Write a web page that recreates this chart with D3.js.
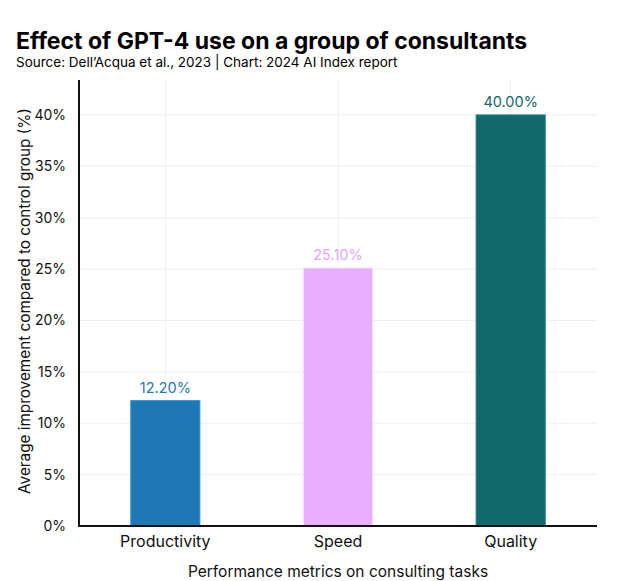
<!DOCTYPE html>
<html><head><meta charset="utf-8">
<script src="https://cdn.jsdelivr.net/npm/d3@7"></script>
<style>body{margin:0;background:#fff;}svg{display:block;font-family:Inter, "Noto Sans", sans-serif;}</style>
</head><body>
<script>
const categories = ["Productivity", "Speed", "Quality"];
const values = [12.2, 25.1, 40.0];
const colors = ["#1f77b4", "#e8aeff", "#11696b"];
const labelColors = ["#1f77b4", "#e3a6f7", "#11696b"];
const yTicks = [0, 5, 10, 15, 20, 25, 30, 35, 40];

const W = 627, H = 581;
const m = {left: 79, right: 30, top: 80, bottom: 55};
const svg = d3.select("body").append("svg").attr("width", W).attr("height", H);

const x = d3.scaleBand().domain(categories).range([m.left, W - m.right]).paddingInner(0.6).paddingOuter(0.3);
const y = d3.scaleLinear().domain([0, 43.4]).range([H - m.bottom, m.top]);

// grid
svg.append("g").selectAll("line.h").data(yTicks).join("line")
  .attr("x1", m.left).attr("x2", W - m.right)
  .attr("y1", d => y(d)).attr("y2", d => y(d))
  .attr("stroke", "#efefef").attr("stroke-width", 1);
svg.append("g").selectAll("line.v").data(categories).join("line")
  .attr("x1", d => x(d) + x.bandwidth()/2).attr("x2", d => x(d) + x.bandwidth()/2)
  .attr("y1", m.top).attr("y2", H - m.bottom)
  .attr("stroke", "#efefef").attr("stroke-width", 1);

// bars
svg.append("g").selectAll("rect").data(values).join("rect")
  .attr("x", (d,i) => x(categories[i]))
  .attr("width", x.bandwidth())
  .attr("y", d => y(d))
  .attr("height", d => y(0) - y(d))
  .attr("fill", (d,i) => colors[i])
  .attr("stroke", (d,i) => d3.color(colors[i]).brighter(0.6))
  .attr("stroke-width", 1);

// value labels
svg.append("g").selectAll("text").data(values).join("text")
  .attr("x", (d,i) => x(categories[i]) + x.bandwidth()/2)
  .attr("y", d => y(d) - 8)
  .attr("text-anchor", "middle")
  .attr("font-size", 14.5)
  .attr("fill", (d,i) => labelColors[i])
  .text(d => d.toFixed(2) + "%");

// axes
const yAxis = svg.append("g").attr("transform", `translate(${m.left},0)`)
  .call(d3.axisLeft(y).tickValues(yTicks).tickFormat(d => d + "%").tickSize(0).tickPadding(13));
yAxis.select(".domain").remove();
yAxis.selectAll("text").attr("font-size", 14).attr("fill", "#111").attr("font-family", "Inter, sans-serif");

const xAxis = svg.append("g").attr("transform", `translate(0,${H - m.bottom})`)
  .call(d3.axisBottom(x).tickSize(0).tickPadding(10));
xAxis.select(".domain").remove();
xAxis.selectAll("text").attr("font-size", 16).attr("fill", "#111").attr("font-family", "Inter, sans-serif");

svg.append("line").attr("x1", m.left).attr("x2", m.left).attr("y1", m.top).attr("y2", H - m.bottom + 1)
  .attr("stroke", "#111").attr("stroke-width", 2);
svg.append("line").attr("x1", m.left - 1).attr("x2", W - m.right).attr("y1", H - m.bottom).attr("y2", H - m.bottom)
  .attr("stroke", "#111").attr("stroke-width", 2);

// axis titles
svg.append("text").attr("x", (m.left + W - m.right)/2).attr("y", 577)
  .attr("text-anchor", "middle").attr("font-size", 15.5).attr("fill", "#111")
  .text("Performance metrics on consulting tasks");
svg.append("text").attr("transform", `translate(30,${(m.top + H - m.bottom)/2 - 2}) rotate(-90)`)
  .attr("text-anchor", "middle").attr("font-size", 15.3).attr("fill", "#111")
  .text("Average improvement compared to control group (%)");

// title
svg.append("text").attr("x", 16).attr("y", 49).attr("font-size", 23).attr("font-weight", 700).attr("fill", "#000")
  .text("Effect of GPT-4 use on a group of consultants");
svg.append("text").attr("x", 16).attr("y", 67).attr("font-size", 13.5).attr("fill", "#000")
  .text("Source: Dell’Acqua et al., 2023 | Chart: 2024 AI Index report");
</script>
</body></html>
